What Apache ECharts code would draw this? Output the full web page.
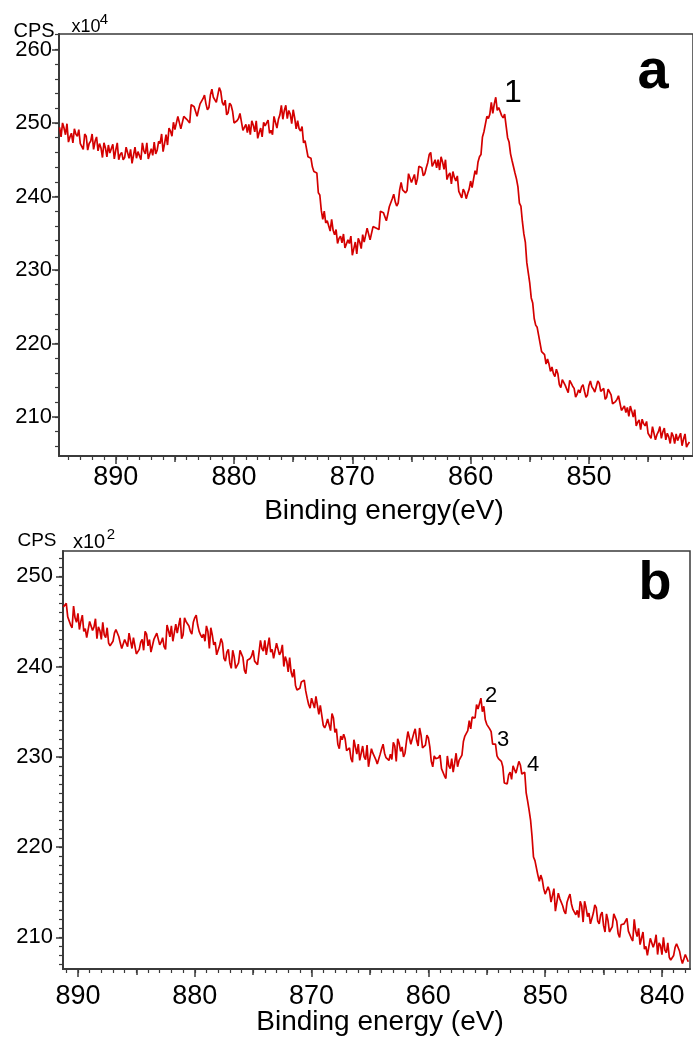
<!DOCTYPE html>
<html><head><meta charset="utf-8">
<script src="https://cdn.jsdelivr.net/npm/echarts@6/dist/echarts.min.js"></script>
<style>html,body{margin:0;padding:0;background:#fff}#c{width:693px;height:1037px}</style>
</head><body><div id="c"></div>
<script>
// Panel a: binding energy grid (eV) and counts (x10^4 CPS)
const energyStartA = 894.75, energyStepA = 0.125;
const cpsA = [
249.4,248.1,250.0,249.3,248.4,249.9,247.4,248.1,248.6,247.3,249.2,248.5,248.2,249.1,247.2,247.3,
246.4,248.5,248.2,246.3,247.2,247.5,248.5,246.4,247.5,248.1,246.2,247.2,246.6,245.3,247.3,246.6,
245.4,247.0,245.9,245.9,247.1,245.1,246.3,247.3,245.0,245.7,246.0,245.0,245.3,246.7,246.9,245.2,
246.4,244.5,244.6,246.7,245.2,246.1,246.3,245.0,247.3,246.2,245.8,247.3,245.1,245.8,246.5,245.6,
247.4,245.8,246.3,247.5,247.2,248.5,246.1,247.2,248.4,247.0,249.3,248.9,248.2,250.1,249.1,248.9,
250.9,250.7,249.2,249.1,250.9,250.9,250.5,250.3,250.0,252.5,252.4,252.2,252.2,250.9,251.8,252.6,
252.4,253.3,253.8,252.6,251.8,252.1,253.8,254.6,253.5,253.3,252.8,252.8,254.8,254.3,252.8,252.4,
253.1,251.1,251.4,252.7,252.4,251.6,250.0,249.9,250.3,250.6,251.3,251.3,249.0,249.4,249.8,248.7,
249.8,248.4,250.3,249.7,248.8,250.3,247.9,248.7,249.3,248.1,250.1,249.6,249.4,250.4,248.6,249.0,
248.4,250.9,250.9,249.3,250.5,251.1,252.4,250.5,251.7,252.4,250.6,251.7,251.2,249.9,251.8,250.7,
249.2,250.3,249.2,248.9,249.5,247.3,247.6,247.6,245.4,245.6,245.2,244.0,243.4,243.5,243.2,240.5,
240.2,238.1,236.9,238.0,236.4,236.7,236.5,235.3,236.9,235.4,234.8,235.5,233.6,234.3,234.6,233.7,
234.9,233.0,233.2,234.1,233.6,234.6,232.0,232.9,233.8,232.2,234.3,233.8,232.9,234.8,233.8,233.7,
235.7,235.6,234.1,234.1,235.9,236.0,235.7,235.6,235.5,238.0,237.9,237.8,237.9,236.7,237.6,238.6,
238.6,239.7,240.3,239.3,238.7,239.1,240.9,241.9,240.9,240.9,240.5,240.8,243.1,243.0,241.9,241.9,
243.0,241.6,242.4,244.1,244.3,243.9,242.8,243.1,243.9,244.6,245.7,246.0,244.1,244.5,245.0,243.9,
245.0,243.6,245.4,244.7,243.7,245.0,242.3,242.9,243.2,241.7,243.4,242.6,242.1,242.8,240.7,240.6,
239.8,241.0,240.6,239.7,240.4,241.0,242.1,241.2,242.4,243.5,243.0,244.7,245.4,245.7,248.1,248.8,
248.8,250.9,250.6,251.2,252.8,251.3,252.6,253.5,251.7,252.1,252.2,251.0,250.7,251.2,251.0,248.0,
247.4,245.8,244.9,244.9,243.2,242.4,241.3,239.1,238.7,236.6,234.9,233.8,231.0,229.6,228.2,226.2,
225.5,223.4,222.5,222.2,221.1,220.9,218.9,218.7,218.5,217.2,217.9,217.2,216.2,216.8,215.9,215.5,
216.5,215.9,214.4,214.0,215.1,214.9,214.3,213.8,213.3,215.0,214.6,214.2,213.9,212.7,213.1,213.7,
213.3,214.1,214.4,213.5,212.7,213.0,214.3,214.9,214.1,213.8,213.4,213.4,214.9,214.6,213.5,213.3,
213.9,212.4,212.7,213.8,213.6,213.0,211.8,211.8,212.1,212.4,212.9,212.8,210.9,211.2,211.5,210.6,
211.3,210.1,211.5,210.8,210.0,211.0,208.8,209.3,209.6,208.3,209.7,209.1,208.8,209.4,207.8,207.8,
207.1,208.7,208.5,206.9,207.6,208.0,208.7,207.1,208.0,208.5,206.9,207.8,207.3,206.4,207.9,207.4,
206.4,207.7,206.8,206.9,207.8,206.1,207.0,207.7,205.9,206.3,206.6
];
// Panel b: binding energy grid (eV) and counts (x10^2 CPS)
const energyStartB = 891.25, energyStepB = 0.125;
const cpsB = [
246.6,246.7,247.0,245.5,245.4,244.6,244.3,246.7,245.4,244.9,245.9,244.1,245.0,245.7,243.9,244.2,
243.2,243.3,245.0,245.2,244.0,244.4,245.3,243.1,244.4,244.0,243.0,244.9,243.5,243.2,244.3,242.6,
242.3,242.4,242.8,243.7,244.1,244.3,243.3,242.6,242.0,241.8,243.0,243.1,242.2,243.7,243.8,242.0,
243.2,243.3,241.4,241.3,241.9,242.7,243.0,241.8,243.9,243.6,242.3,243.0,241.6,241.4,243.0,242.9,
243.7,243.5,242.4,242.7,243.2,242.2,241.9,244.6,244.0,243.3,244.5,242.8,243.0,244.7,243.7,243.6,
245.4,243.1,243.5,245.4,245.0,245.0,244.5,243.9,243.6,244.9,245.4,245.7,244.6,243.9,243.5,243.2,
243.6,242.8,244.5,243.9,242.0,244.3,243.5,242.4,242.7,241.3,241.4,242.3,243.1,242.6,240.9,240.6,
241.6,241.9,240.4,239.8,241.8,241.1,239.8,240.1,240.4,241.8,241.7,241.0,239.6,239.2,240.7,240.6,
240.9,241.2,241.8,240.6,240.7,240.2,240.2,242.9,242.0,241.7,242.9,241.3,242.3,243.2,241.6,241.9,
240.9,241.0,242.6,242.7,241.3,241.6,242.4,240.0,241.1,240.6,239.4,241.0,239.4,238.8,239.7,237.9,
237.4,237.3,237.6,238.3,238.5,238.5,237.3,236.5,235.8,235.4,236.5,236.4,235.4,236.7,236.7,234.7,
235.7,235.6,233.5,233.2,233.6,234.2,234.3,232.9,234.8,234.3,232.7,233.1,231.4,230.9,232.3,231.9,
232.5,232.0,230.7,230.8,231.0,229.8,229.4,231.9,231.1,230.3,231.4,229.6,229.6,231.2,230.0,229.7,
231.3,228.9,229.1,230.9,230.4,230.3,229.7,229.2,229.0,230.3,230.9,231.4,230.4,229.9,229.7,229.6,
230.3,229.7,231.6,231.2,229.5,232.0,231.5,230.6,231.1,230.0,230.4,231.7,232.8,232.7,231.4,231.4,
232.6,233.1,231.8,231.2,233.2,232.4,231.0,231.1,231.3,232.4,232.1,231.1,229.5,228.9,230.1,229.8,
229.8,229.9,230.2,228.7,228.6,227.9,227.6,230.1,229.0,228.7,229.8,228.3,229.3,230.4,228.9,229.6,
229.5,230.2,231.7,232.3,232.1,232.9,234.0,233.1,234.4,234.5,234.3,235.8,235.3,235.5,236.5,235.0,
235.6,234.1,233.6,233.6,233.1,232.8,231.4,231.2,231.4,230.1,229.8,229.9,229.5,228.9,227.1,227.1,
227.0,228.0,228.3,227.5,229.0,228.6,228.2,228.3,229.5,229.1,228.1,228.3,228.3,226.0,225.1,224.1,
223.0,221.2,218.9,218.5,218.6,216.9,216.2,216.9,216.4,215.4,214.8,214.6,215.6,215.1,213.9,214.1,
215.4,212.9,213.1,214.9,214.3,214.2,213.5,212.9,212.6,213.9,214.4,214.8,213.7,213.1,212.8,212.5,
213.0,212.2,214.0,213.5,211.7,214.0,213.3,212.3,212.7,211.5,211.7,212.7,213.6,213.3,211.8,211.5,
212.5,212.8,211.3,210.6,212.6,211.9,210.6,210.9,211.2,212.6,212.5,211.8,210.4,210.0,211.4,211.3,
211.5,211.7,212.1,210.7,210.6,209.9,209.6,212.0,210.7,210.1,211.0,209.2,209.9,210.6,208.7,209.0,
208.0,208.2,209.9,210.1,208.9,209.4,210.3,208.1,209.4,209.1,208.1,210.0,208.6,208.3,209.4,207.8,
207.5,207.6,208.0,208.9,209.3,209.5,208.5,207.7,207.1,206.9,208.1,208.2,207.3
];
const xTickLabelsA = [850, 860, 870, 880, 890];
const xTickLabelsB = [840, 850, 860, 870, 880, 890];
const yTickLabelsA = [210, 220, 230, 240, 250, 260];
const yTickLabelsB = [210, 220, 230, 240, 250];
const peakTextsA = ['1', 'a'];
const peakTextsB = ['2', '3', '4', 'b'];

const FONT = 'Arial, "Liberation Sans", sans-serif';
const AX = '#3a3a3a';
const RED = '#d40000';
function pairs(start, step, vals) { return vals.map((v, i) => [start - step * i, v]); }
function range(a, b, s) { const r = []; for (let v = a; v <= b + 1e-9; v += s) r.push(+v.toFixed(3)); return r; }

function xAxesFor(g, min, max, labels, margin) {
  const lo = Math.ceil(min), hi = Math.floor(max);
  const all = range(lo, hi, 1);
  const tens = all.filter(v => v % 10 === 0);
  const fives = all.filter(v => v % 5 === 0 && v % 10 !== 0);
  const base = { type: 'value', gridIndex: g, min, max, inverse: true, position: 'bottom', offset: 0, splitLine: { show: false } };
  return [
    Object.assign({}, base, {
      axisLine: { show: true, lineStyle: { color: AX, width: 2 } },
      axisTick: { show: true, length: 8, customValues: tens, lineStyle: { color: AX, width: 1.5 } },
      axisLabel: { show: true, customValues: labels, margin, fontSize: 27, color: '#000', fontFamily: FONT }
    }),
    Object.assign({}, base, {
      axisLine: { show: false }, axisLabel: { show: false },
      axisTick: { show: true, length: 6, customValues: fives, lineStyle: { color: AX, width: 1.5 } }
    }),
    Object.assign({}, base, {
      axisLine: { show: false }, axisLabel: { show: false },
      axisTick: { show: true, length: 4, customValues: all, lineStyle: { color: AX, width: 1.2 } }
    })
  ];
}
function yAxesFor(g, min, max, labels, minorStep, margin) {
  const minors = range(Math.ceil(min / minorStep) * minorStep, max, minorStep);
  const base = { type: 'value', gridIndex: g, min, max, position: 'left', offset: 0, splitLine: { show: false } };
  return [
    Object.assign({}, base, {
      axisLine: { show: true, lineStyle: { color: AX, width: 2 } },
      axisTick: { show: true, length: 7, customValues: labels, lineStyle: { color: AX, width: 1.5 } },
      axisLabel: { show: true, customValues: labels, margin, fontSize: 22, color: '#000', fontFamily: FONT }
    }),
    Object.assign({}, base, {
      axisLine: { show: false }, axisLabel: { show: false },
      axisTick: { show: true, length: 4, customValues: minors, lineStyle: { color: AX, width: 1.2 } }
    })
  ];
}

const xMinA = 841.2, xMaxA = 894.8, yMinA = 204.7, yMaxA = 262.1;
const xMinB = 837.6, xMaxB = 891.28, yMinB = 206.5, yMaxB = 252.8;

function txt(t, x, y, size, opts) {
  return { type: 'text', x, y, style: Object.assign({ text: t, fontSize: size, fontFamily: FONT, fill: '#000', align: 'center', verticalAlign: 'middle' }, (opts || {})) };
}

const chart = echarts.init(document.getElementById('c'), null, { renderer: 'canvas' });
chart.setOption({
  animation: false,
  backgroundColor: '#fff',
  grid: [
    { left: 59, top: 34, width: 635, height: 422, show: true, borderColor: AX, borderWidth: 1.5, backgroundColor: 'transparent' },
    { left: 63, top: 551, width: 627, height: 418, show: true, borderColor: AX, borderWidth: 1.5, backgroundColor: 'transparent' }
  ],
  xAxis: [].concat(xAxesFor(0, xMinA, xMaxA, xTickLabelsA, 8), xAxesFor(1, xMinB, xMaxB, xTickLabelsB, 14)),
  yAxis: [].concat(yAxesFor(0, yMinA, yMaxA, yTickLabelsA, 2, 7), yAxesFor(1, yMinB, yMaxB, yTickLabelsB, 1, 10)),
  series: [
    { type: 'line', xAxisIndex: 0, yAxisIndex: 0, data: pairs(energyStartA, energyStepA, cpsA), showSymbol: false, lineStyle: { color: RED, width: 1.7 }, silent: true },
    { type: 'line', xAxisIndex: 3, yAxisIndex: 2, data: pairs(energyStartB, energyStepB, cpsB), showSymbol: false, lineStyle: { color: RED, width: 1.7 }, silent: true }
  ],
  graphic: [
    txt('CPS', 34, 31, 20),
    txt('x10', 86, 27, 18),
    txt('4', 104, 20, 15),
    txt('Binding energy(eV)', 384, 511, 28),
    txt(peakTextsA[0], 513, 93, 32),
    txt(peakTextsA[1], 653, 73, 56, { fontWeight: 'bold' }),
    txt('CPS', 37, 541, 19),
    txt('x10', 89, 542, 20),
    txt('2', 111, 535, 15),
    txt('Binding energy (eV)', 380, 1022, 28),
    txt(peakTextsB[0], 491, 696, 22),
    txt(peakTextsB[1], 503, 740, 22),
    txt(peakTextsB[2], 533, 765, 22),
    txt(peakTextsB[3], 655, 584, 54, { fontWeight: 'bold' })
  ]
});
</script>
</body></html>
